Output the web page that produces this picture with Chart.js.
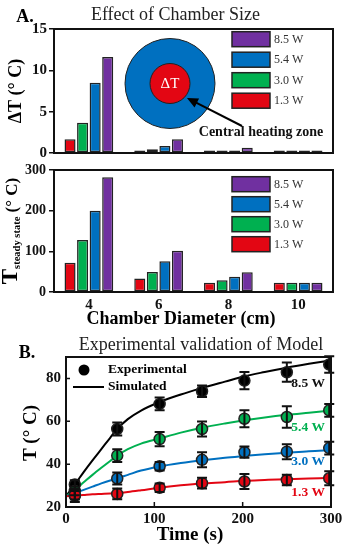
<!DOCTYPE html>
<html><head><meta charset="utf-8">
<script src="https://cdn.jsdelivr.net/npm/chart.js@4.4.0/dist/chart.umd.min.js"></script>
<style>
html,body{margin:0;padding:0;background:#fff;}
#wrap{position:relative;width:351px;height:550px;background:#fff;overflow:hidden;}
#wrap canvas{position:absolute;left:0;top:0;}
</style></head><body>
<div id="wrap">
<canvas id="cA1" width="351" height="550"></canvas>
<canvas id="cA2" width="351" height="550"></canvas>
<canvas id="cB" width="351" height="550"></canvas>
</div>
<script>
// ---------------- DATA ----------------
const diameters = ['4', '6', '8', '10'];
const powerLabels = ['1.3 W', '3.0 W', '5.4 W', '8.5 W'];
const powerColors = ['#e30613', '#00b050', '#0070c0', '#7030a0'];

const deltaT_13 = [1.65, 0.3, 0.3, 0.3];
const deltaT_30 = [3.65, 0.45, 0.3, 0.3];
const deltaT_54 = [8.5, 0.85, 0.3, 0.3];
const deltaT_85 = [11.6, 1.65, 0.65, 0.3];
const deltaTTicks = [0, 5, 10, 15];

const tSteady_13 = [72, 33, 23, 23];
const tSteady_30 = [128, 49, 29, 23];
const tSteady_54 = [200, 75.5, 37.7, 23];
const tSteady_85 = [282, 101.6, 48.4, 23];
const tSteadyTicks = [0, 100, 200, 300];

const expTime = [10, 58, 106, 154, 202, 250, 298];
const exp_13 = [25.5, 26.1, 29, 31.1, 31.9, 32.6, 33.4];
const err_13 = [2, 2.5, 2, 2.5, 3.5, 2.5, 3.3];
const exp_30 = [25.3, 33.3, 39, 42, 45.6, 45.8, 47.5];
const err_30 = [3, 2.8, 2, 3.5, 2.6, 3.5, 3];
const exp_54 = [27.5, 44, 51.7, 56.4, 61.2, 62, 65.1];
const err_54 = [2, 3, 3.3, 3.5, 4, 5, 3];
const exp_85 = [30.5, 56.4, 68.1, 74, 79, 82.9, 86.5];
const err_85 = [2, 3, 3, 2.7, 4, 4.5, 3.8];

const simTime = [0, 10, 20, 30, 40, 50, 58, 70, 85, 106, 130, 154, 180, 202, 225, 250, 275, 300];
const sim_13 = [25, 25.3, 25.6, 25.9, 26.1, 26.3, 26.5, 27, 27.8, 29, 30.1, 31, 31.6, 32.2, 32.6, 33, 33.3, 33.6];
const sim_30 = [25, 26.5, 28, 29.5, 31, 32.4, 33.4, 35, 37, 38.9, 40.5, 41.8, 43, 43.8, 44.6, 45.3, 46, 46.5];
const sim_54 = [25, 28, 31.5, 35, 38.3, 41.5, 44, 47, 49.6, 52, 54.7, 57, 59, 60.5, 61.8, 63, 64, 65];
const sim_85 = [25, 30.5, 36.3, 41.8, 47, 52.3, 56.4, 61, 65, 69, 72.5, 75.5, 78.5, 81, 83, 85, 86.8, 88.5];
const timeTicks = [0, 100, 200, 300];
const tempTicks = [20, 40, 60, 80];

const curveLabels = ['1.3 W', '3.0 W', '5.4 W', '8.5 W'];
const curveColors = ['#e30613', '#0070c0', '#00b050', '#000000'];

// ---------------- HELPERS ----------------
const SERIF = '"Liberation Serif", "Times New Roman", serif';
function fnt(size, bold) { return (bold ? 'bold ' : '') + size + 'px ' + SERIF; }

const textPlugin = {
  id: 'texts',
  afterDraw(chart, args, opts) {
    const ctx = chart.ctx;
    (opts.items || []).forEach(it => {
      ctx.save();
      ctx.fillStyle = it.color || '#000';
      ctx.translate(it.x, it.y);
      if (it.rotate) ctx.rotate(it.rotate);
      if (it.parts) {
        let total = 0;
        it.parts.forEach(p => { ctx.font = p.font; p.w = ctx.measureText(p.text).width; total += p.w; });
        let cx = -total / 2;
        ctx.textAlign = 'left'; ctx.textBaseline = 'alphabetic';
        it.parts.forEach(p => { ctx.font = p.font; ctx.fillText(p.text, cx, p.dy || 0); cx += p.w; });
      } else {
        ctx.font = it.font;
        ctx.textAlign = it.align || 'center';
        ctx.textBaseline = it.baseline || 'middle';
        ctx.fillText(it.text, 0, 0);
      }
      ctx.restore();
    });
  }
};

const framePlugin = {
  id: 'frame',
  afterDatasetsDraw(chart) {
    const { left, top, right, bottom } = chart.chartArea;
    const ctx = chart.ctx;
    ctx.save();
    ctx.strokeStyle = '#111'; ctx.lineWidth = 2;
    ctx.strokeRect(left, top, right - left, bottom - top);
    ctx.restore();
  }
};

const boxLegend = {
  id: 'boxLegend',
  afterDraw(chart, args, o) {
    const ctx = chart.ctx;
    const ds = chart.data.datasets.slice().reverse();
    ctx.save();
    ds.forEach((d, i) => {
      const y = o.y + i * o.step;
      ctx.fillStyle = d.backgroundColor;
      ctx.fillRect(o.x, y, o.w, o.h);
      ctx.strokeStyle = '#222'; ctx.lineWidth = 1.5;
      ctx.strokeRect(o.x, y, o.w, o.h);
      ctx.fillStyle = '#333'; ctx.font = fnt(12, false);
      ctx.textAlign = 'left'; ctx.textBaseline = 'middle';
      ctx.fillText(d.label, o.x + o.w + 4, y + o.h / 2 + 0.5);
    });
    ctx.restore();
  }
};

const diagramPlugin = {
  id: 'diagram',
  afterDraw(chart, args, o) {
    if (!o || !o.show) return;
    const ctx = chart.ctx;
    ctx.save();
    ctx.beginPath(); ctx.arc(o.cx, o.cy, o.R, 0, Math.PI * 2);
    ctx.fillStyle = '#0070c0'; ctx.fill();
    ctx.strokeStyle = '#222'; ctx.lineWidth = 1; ctx.stroke();
    ctx.beginPath(); ctx.arc(o.cx, o.cy, o.r, 0, Math.PI * 2);
    ctx.fillStyle = '#e30613'; ctx.fill(); ctx.stroke();
    ctx.fillStyle = '#fff'; ctx.font = fnt(15, false);
    ctx.textAlign = 'center'; ctx.textBaseline = 'middle';
    ctx.fillText(o.label, o.cx, o.cy + 1);
    // arrow
    const ang = Math.atan2(o.ay2 - o.ay1, o.ax2 - o.ax1);
    ctx.strokeStyle = '#000'; ctx.lineWidth = 2;
    ctx.beginPath(); ctx.moveTo(o.ax1, o.ay1);
    ctx.lineTo(o.ax2 - 8 * Math.cos(ang), o.ay2 - 8 * Math.sin(ang)); ctx.stroke();
    ctx.fillStyle = '#000';
    ctx.beginPath(); ctx.moveTo(o.ax2, o.ay2);
    ctx.lineTo(o.ax2 - 11 * Math.cos(ang) + 5 * Math.sin(ang), o.ay2 - 11 * Math.sin(ang) - 5 * Math.cos(ang));
    ctx.lineTo(o.ax2 - 11 * Math.cos(ang) - 5 * Math.sin(ang), o.ay2 - 11 * Math.sin(ang) + 5 * Math.cos(ang));
    ctx.closePath(); ctx.fill();
    ctx.font = fnt(14, true); ctx.fillStyle = '#111';
    ctx.fillText(o.caption, o.tx, o.ty);
    ctx.restore();
  }
};

const errorBarPlugin = {
  id: 'errorBars',
  afterDatasetsDraw(chart) {
    const ctx = chart.ctx;
    const xs = chart.scales.x, ys = chart.scales.y;
    ctx.save();
    ctx.strokeStyle = '#111'; ctx.lineWidth = 2;
    chart.data.datasets.forEach(d => {
      if (!d.errors) return;
      d.data.forEach((p, j) => {
        const e = d.errors[j];
        const px = xs.getPixelForValue(p.x);
        const y1 = ys.getPixelForValue(p.y + e), y2 = ys.getPixelForValue(p.y - e);
        ctx.beginPath();
        ctx.moveTo(px, y1); ctx.lineTo(px, y2);
        ctx.moveTo(px - 5, y1); ctx.lineTo(px + 5, y1);
        ctx.moveTo(px - 5, y2); ctx.lineTo(px + 5, y2);
        ctx.stroke();
      });
    });
    ctx.restore();
  }
};

const inTicksPlugin = {
  id: 'inTicks',
  afterDatasetsDraw(chart) {
    const ctx = chart.ctx;
    const xs = chart.scales.x, ys = chart.scales.y;
    const { left, bottom } = chart.chartArea;
    ctx.save(); ctx.strokeStyle = '#111'; ctx.lineWidth = 1.5;
    ctx.beginPath();
    xs.ticks.forEach(t => { const px = xs.getPixelForValue(t.value); ctx.moveTo(px, bottom); ctx.lineTo(px, bottom - 5); });
    ys.ticks.forEach(t => { const py = ys.getPixelForValue(t.value); ctx.moveTo(left, py); ctx.lineTo(left + 4, py); });
    ctx.stroke(); ctx.restore();
  }
};

const lineLegendPlugin = {
  id: 'lineLegend',
  afterDraw(chart, args, o) {
    const ctx = chart.ctx;
    ctx.save();
    ctx.fillStyle = '#000';
    ctx.beginPath(); ctx.arc(o.dotX, o.dotY, 5.5, 0, Math.PI * 2); ctx.fill();
    ctx.strokeStyle = '#000'; ctx.lineWidth = 2;
    ctx.beginPath(); ctx.moveTo(o.lineX1, o.lineY); ctx.lineTo(o.lineX2, o.lineY); ctx.stroke();
    ctx.font = fnt(13.5, true); ctx.textAlign = 'left'; ctx.textBaseline = 'middle';
    ctx.fillText(o.expLabel, o.textX, o.dotY);
    ctx.fillText(o.simLabel, o.textX, o.lineY);
    ctx.restore();
  }
};

const common = {
  responsive: false, animation: false, devicePixelRatio: 1,
  events: []
};

function barDatasets(arrs) {
  return arrs.map((a, i) => ({
    label: powerLabels[i], data: a,
    backgroundColor: powerColors[i], borderColor: '#222', borderWidth: 1.5,
    borderSkipped: false,
    categoryPercentage: 0.72, barPercentage: 0.88
  }));
}

function yTickScale(min, max, ticksArr, size, pad, width) {
  return {
    min: min, max: max,
    afterBuildTicks: s => { s.ticks = ticksArr.map(v => ({ value: v })); },
    afterFit: s => { s.width = width; },
    ticks: { font: { family: SERIF, size: size, weight: 'bold' }, color: '#111', padding: pad },
    grid: { display: true, drawOnChartArea: false, drawTicks: true, tickLength: 5, color: '#111', lineWidth: 1.5 },
    border: { display: false }
  };
}

// ---------------- CHART A1 ----------------
new Chart(document.getElementById('cA1'), {
  type: 'bar',
  data: { labels: diameters, datasets: barDatasets([deltaT_13, deltaT_30, deltaT_54, deltaT_85]) },
  plugins: [diagramPlugin, framePlugin, boxLegend, textPlugin],
  options: Object.assign({}, common, {
    layout: { padding: { top: 29, left: 0, right: 18, bottom: 397 } },
    scales: {
      x: { display: false },
      y: yTickScale(0, 15, deltaTTicks, 15, 2, 54)
    },
    plugins: {
      legend: { display: false }, tooltip: { enabled: false },
      boxLegend: { x: 232, y: 31.7, step: 20.5, w: 38, h: 15 },
      diagram: { show: true, cx: 170, cy: 83.5, R: 45, r: 20, label: 'ΔT',
        ax1: 242, ay1: 126, ax2: 187, ay2: 98, caption: 'Central heating zone', tx: 261, ty: 132 },
      texts: { items: [
        { text: 'A.', font: fnt(18, true), x: 25, y: 17 },
        { text: 'Effect of Chamber Size', font: fnt(18, false), x: 175.5, y: 15, color: '#222' },
        { text: 'ΔT (° C)', font: fnt(18, true), x: 16, y: 91, rotate: -Math.PI / 2 }
      ] }
    }
  })
});

// ---------------- CHART A2 ----------------
new Chart(document.getElementById('cA2'), {
  type: 'bar',
  data: { labels: diameters, datasets: barDatasets([tSteady_13, tSteady_30, tSteady_54, tSteady_85]) },
  plugins: [framePlugin, boxLegend, textPlugin],
  options: Object.assign({}, common, {
    layout: { padding: { top: 170, left: 0, right: 18, bottom: 238 } },
    scales: {
      x: {
        afterFit: s => { s.height = 20; },
        ticks: { font: { family: SERIF, size: 15, weight: 'bold' }, color: '#111', padding: 4 },
        grid: { display: false, drawTicks: false }, border: { display: false }
      },
      y: yTickScale(0, 300, tSteadyTicks, 14, 3, 54)
    },
    plugins: {
      legend: { display: false }, tooltip: { enabled: false },
      boxLegend: { x: 232, y: 176.7, step: 20, w: 38, h: 15 },
      texts: { items: [
        { x: 15, y: 231, rotate: -Math.PI / 2, parts: [
          { text: 'T', font: fnt(23, true), dy: 2 },
          { text: 'steady state', font: fnt(10.5, true), dy: 5 },
          { text: ' (° C)', font: fnt(17, true), dy: 2 }
        ] },
        { text: 'Chamber Diameter (cm)', font: fnt(18, true), x: 181, y: 319 }
      ] }
    }
  })
});

// ---------------- CHART B ----------------
function pts(xsArr, ysArr) { return xsArr.map((x, i) => ({ x: x, y: ysArr[i] })); }
const simSets = [sim_13, sim_30, sim_54, sim_85];
const expSets = [exp_13, exp_30, exp_54, exp_85];
const errSets = [err_13, err_30, err_54, err_85];
const bDatasets = [];
simSets.forEach((s, i) => bDatasets.push({
  type: 'line', label: 'Simulated ' + curveLabels[i], data: pts(simTime, s),
  borderColor: curveColors[i], borderWidth: 2, pointRadius: 0,
  cubicInterpolationMode: 'monotone', fill: false, order: 2
}));
expSets.forEach((s, i) => bDatasets.push({
  type: 'line', label: 'Experimental ' + curveLabels[i], data: pts(expTime, s), errors: errSets[i],
  showLine: false, pointRadius: 5.5, pointBorderWidth: 1.5,
  pointBackgroundColor: curveColors[i], pointBorderColor: '#222', order: 1
}));

new Chart(document.getElementById('cB'), {
  type: 'line',
  data: { datasets: bDatasets },
  plugins: [errorBarPlugin, framePlugin, inTicksPlugin, lineLegendPlugin, textPlugin],
  options: Object.assign({}, common, {
    layout: { padding: { top: 357, left: 0, right: 20, bottom: 25 } },
    scales: {
      x: {
        type: 'linear', min: 0, max: 300,
        afterBuildTicks: s => { s.ticks = timeTicks.map(v => ({ value: v })); },
        afterFit: s => { s.height = 18; },
        ticks: { font: { family: SERIF, size: 15, weight: 'bold' }, color: '#111', padding: 3 },
        grid: { display: false, drawTicks: false }, border: { display: false }
      },
      y: {
        min: 20, max: 90,
        afterBuildTicks: s => { s.ticks = tempTicks.map(v => ({ value: v })); },
        afterFit: s => { s.width = 66; },
        ticks: { font: { family: SERIF, size: 15, weight: 'bold' }, color: '#111', padding: 5 },
        grid: { display: false, drawTicks: false }, border: { display: false }
      }
    },
    plugins: {
      legend: { display: false }, tooltip: { enabled: false },
      lineLegend: { dotX: 84, dotY: 370, lineX1: 73, lineX2: 104, lineY: 387, textX: 108,
        expLabel: 'Experimental', simLabel: 'Simulated' },
      texts: { items: [
        { text: 'B.', font: fnt(18, true), x: 27, y: 353 },
        { text: 'Experimental validation of Model', font: fnt(18, false), x: 201, y: 345, color: '#222' },
        { text: 'T (° C)', font: fnt(19, true), x: 31, y: 433, rotate: -Math.PI / 2 },
        { text: 'Time (s)', font: fnt(19, true), x: 190, y: 535 },
        { text: curveLabels[3], font: fnt(13.5, true), x: 325, y: 384, align: 'right', color: '#111' },
        { text: curveLabels[2], font: fnt(13.5, true), x: 325, y: 428, align: 'right', color: '#00b050' },
        { text: curveLabels[1], font: fnt(13.5, true), x: 325, y: 462, align: 'right', color: '#0070c0' },
        { text: curveLabels[0], font: fnt(13.5, true), x: 325, y: 493, align: 'right', color: '#e30613' }
      ] }
    }
  })
});
</script>
</body></html>
